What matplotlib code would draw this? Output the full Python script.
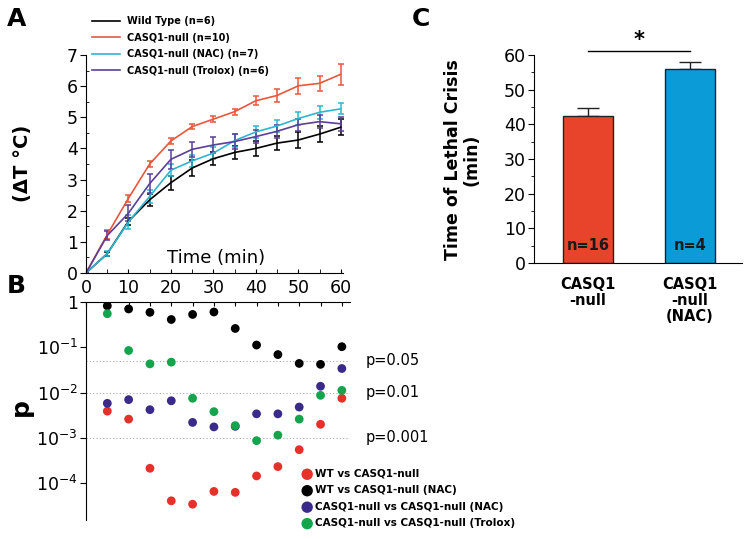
import numpy as np
import matplotlib
matplotlib.use("Agg")
import matplotlib.pyplot as plt
from matplotlib.ticker import MultipleLocator, FixedLocator, FuncFormatter, NullLocator

# ---- panel A: body temperature rise ----
time_min = [0, 5, 10, 15, 20, 25, 30, 35, 40, 45, 50, 55, 60]

wt_mean = [0, 0.62, 1.66, 2.35, 2.90, 3.37, 3.67, 3.87, 4.00, 4.17, 4.27, 4.46, 4.68]
wt_err = [0, 0.06, 0.12, 0.2, 0.22, 0.25, 0.2, 0.22, 0.25, 0.22, 0.25, 0.27, 0.25]

null_mean = [0, 1.23, 2.40, 3.50, 4.24, 4.70, 4.94, 5.18, 5.53, 5.70, 6.01, 6.09, 6.38]
null_err = [0, 0.15, 0.12, 0.1, 0.1, 0.08, 0.1, 0.1, 0.15, 0.2, 0.25, 0.25, 0.33]

nac_mean = [0, 0.62, 1.64, 2.46, 3.30, 3.60, 3.85, 4.25, 4.53, 4.72, 4.96, 5.16, 5.27]
nac_err = [0, 0.08, 0.22, 0.2, 0.2, 0.2, 0.2, 0.2, 0.2, 0.2, 0.2, 0.2, 0.18]

trolox_mean = [0, 1.20, 1.92, 2.87, 3.65, 3.97, 4.11, 4.22, 4.38, 4.55, 4.76, 4.86, 4.79]
trolox_err = [0, 0.15, 0.25, 0.3, 0.3, 0.25, 0.25, 0.25, 0.2, 0.2, 0.2, 0.2, 0.22]

line_labels = ["Wild Type (n=6)", "CASQ1-null (n=10)",
               "CASQ1-null (NAC) (n=7)", "CASQ1-null (Trolox) (n=6)"]

# ---- panel B: p values ----
p_time = [5, 10, 15, 20, 25, 30, 35, 40, 45, 50, 55, 60]
p_wt_null = [0.0039, 0.0026, 0.000214, 0.000041, 0.0000345, 0.000066,
             0.000063, 0.000145, 0.000233, 0.00055, 0.002, 0.0075]
p_wt_nac = [0.82, 0.70, 0.59, 0.41, 0.53, 0.60, 0.26, 0.112, 0.069, 0.044, 0.042, 0.103]
p_null_nac = [0.0058, 0.0070, 0.0042, 0.0066, 0.0022, 0.00175, 0.0018, 0.0034,
              0.0034, 0.0048, 0.0138, 0.034]
p_null_trolox = [0.55, 0.085, 0.043, 0.047, 0.0075, 0.0038, 0.00187, 0.00087,
                 0.00115, 0.0026, 0.0087, 0.0112]
p_labels = ["WT vs CASQ1-null", "WT vs CASQ1-null (NAC)",
            "CASQ1-null vs CASQ1-null (NAC)", "CASQ1-null vs CASQ1-null (Trolox)"]
thresholds = [0.05, 0.01, 0.001]
threshold_labels = ["p=0.05", "p=0.01", "p=0.001"]

# ---- panel C: time of lethal crisis ----
groups = ["CASQ1\n-null", "CASQ1\n-null\n(NAC)"]
crisis_mean = [42.4, 56.0]
crisis_err = [2.3, 1.9]
group_n = ["n=16", "n=4"]

line_colors = ["black", "#E8573C", "#2DB6CF", "#5B3E99"]
dot_colors = ["#E8302B", "black", "#3A2A8A", "#14A44B"]
bar_colors = ["#E8432B", "#0B9BD7"]

fig = plt.figure(figsize=(7.49, 5.39), dpi=100)

# ---------------- A ----------------
axA = fig.add_axes([0.1148, 0.4935, 0.343, 0.4045])
series = [(wt_mean, wt_err), (null_mean, null_err),
          (nac_mean, nac_err), (trolox_mean, trolox_err)]
handles = []
for (m, e), c, lab in zip(series, line_colors, line_labels):
    cont = axA.errorbar(time_min, m, yerr=e, color=c, lw=1.2, elinewidth=1.1,
                        capsize=2.5, capthick=1.1, label=lab)
    handles.append(cont.lines[0])
axA.set_xlim(0, 60.5)
axA.set_ylim(0, 7)
axA.spines[["top", "right"]].set_visible(False)
axA.xaxis.set_major_locator(MultipleLocator(10))
axA.xaxis.set_minor_locator(MultipleLocator(5))
axA.yaxis.set_major_locator(MultipleLocator(1))
axA.yaxis.set_minor_locator(MultipleLocator(0.5))
axA.tick_params(axis="x", which="both", direction="in", length=3, labelsize=12.5, pad=4)
axA.tick_params(axis="y", which="major", direction="out", length=4, labelsize=12.5, pad=2)
axA.tick_params(axis="y", which="minor", direction="in", length=2.5)
axA.set_ylabel("(ΔT °C)", fontsize=14, fontweight="bold")
axA.yaxis.set_label_coords(-0.21, 0.505)
axA.text(30.6, 0.48, "Time (min)", fontsize=13, ha="center", va="center")
leg = fig.legend(handles=handles, labels=line_labels, loc="upper left",
                 bbox_to_anchor=(92 / 749, 1 - 16 / 539), frameon=False,
                 prop={"size": 7, "weight": "bold"}, handlelength=2.9,
                 handletextpad=0.7, labelspacing=0.68, borderpad=0, borderaxespad=0)

# ---------------- B ----------------
axB = fig.add_axes([0.1148, 0.0353, 0.353, 0.4045])
for vals, c, lab in zip([p_wt_null, p_wt_nac, p_null_nac, p_null_trolox],
                        dot_colors, p_labels):
    axB.scatter(p_time, vals, s=40, color=c, edgecolors="none", label=lab, zorder=3)
axB.set_yscale("log")
axB.set_ylim(10 ** -4.81, 1)
axB.set_xlim(0, 62)
for t, tl in zip(thresholds, threshold_labels):
    axB.axhline(t, color="#aaaaaa", lw=0.8, ls=(0, (1, 2)), zorder=1)
    axB.text(65.5, t, tl, fontsize=10.5, va="center", ha="left", clip_on=False)
axB.spines[["bottom", "right"]].set_visible(False)
axB.xaxis.tick_top()
axB.xaxis.set_major_locator(MultipleLocator(5))
axB.tick_params(axis="x", which="both", direction="in", length=3, labeltop=False)
axB.yaxis.set_major_locator(FixedLocator([1, 1e-1, 1e-2, 1e-3, 1e-4]))
axB.yaxis.set_minor_locator(NullLocator())
axB.yaxis.set_major_formatter(FuncFormatter(
    lambda v, pos: "1" if v >= 0.99 else r"$10^{%d}$" % round(np.log10(v))))
axB.tick_params(axis="y", direction="out", length=4, labelsize=12.5, pad=2)
axB.set_ylabel("p", fontsize=18, fontweight="bold")
axB.yaxis.set_label_coords(-0.2, 0.518)
axB.legend(loc="upper left", bbox_to_anchor=(303 / 749, 1 - 469 / 539),
           bbox_transform=fig.transFigure, frameon=False,
           prop={"size": 7.5, "weight": "bold"}, markerscale=1.3,
           handlelength=0.8, handletextpad=0.35, labelspacing=0.62,
           borderpad=0, borderaxespad=0)

# ---------------- C ----------------
axC = fig.add_axes([0.713, 0.512, 0.2777, 0.386])
xpos = np.arange(len(groups))
axC.bar(xpos, crisis_mean, width=0.49, color=bar_colors, edgecolor="#222222",
        linewidth=1, zorder=2)
axC.errorbar(xpos, crisis_mean, yerr=[[0, 0], crisis_err], fmt="none",
             ecolor="#222222", elinewidth=1, capsize=8, capthick=1, zorder=1)
for x, n in zip(xpos, group_n):
    axC.text(x, 5.2, n, ha="center", va="center", fontsize=10.5,
             fontweight="bold", color="#1a1a1a", zorder=3)
axC.plot([xpos[0], xpos[1]], [61.2, 61.2], color="black", lw=1, clip_on=False)
axC.text(0.5, 61.3, "*", ha="center", va="bottom", fontsize=15,
         fontweight="bold", clip_on=False)
axC.set_xlim(-0.53, 1.51)
axC.set_ylim(0, 60)
axC.spines[["top", "right"]].set_visible(False)
axC.set_xticks(xpos)
axC.set_xticklabels(groups, fontsize=10.5, fontweight="bold", linespacing=1.1)
axC.tick_params(axis="x", length=0, pad=10)
axC.yaxis.set_major_locator(MultipleLocator(10))
axC.yaxis.set_minor_locator(MultipleLocator(5))
axC.tick_params(axis="y", which="major", direction="out", length=4, labelsize=12.5, pad=2)
axC.tick_params(axis="y", which="minor", direction="out", length=2)
axC.set_ylabel("Time of Lethal Crisis\n(min)", fontsize=12.5, fontweight="bold",
               linespacing=1.05)
axC.yaxis.set_label_coords(-0.255, 0.495)

# panel letters
fig.text(17 / 749, 1 - 19 / 539, "A", fontsize=18, fontweight="bold", ha="center", va="center")
fig.text(16 / 749, 1 - 286 / 539, "B", fontsize=18, fontweight="bold", ha="center", va="center")
fig.text(421 / 749, 1 - 19 / 539, "C", fontsize=18, fontweight="bold", ha="center", va="center")

fig.savefig("out.png", dpi=100)
